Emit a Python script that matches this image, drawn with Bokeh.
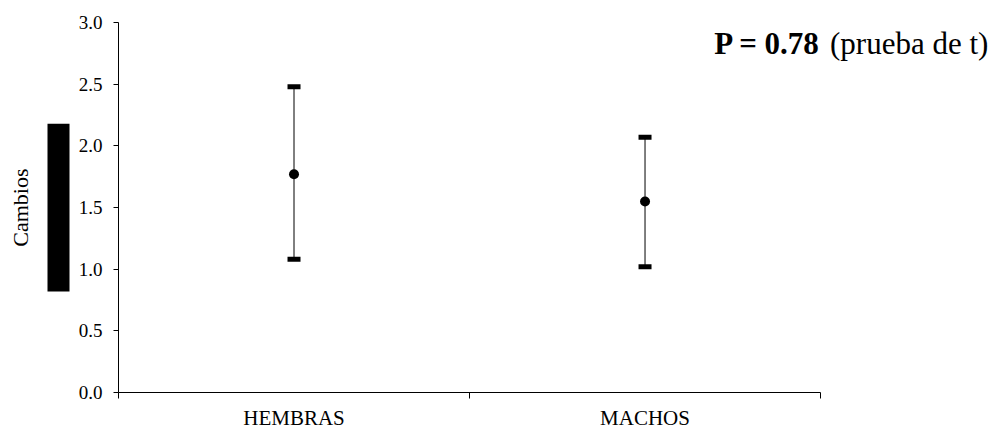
import math

from bokeh.core.properties import value
from bokeh.embed import file_html
from bokeh.layouts import row
from bokeh.models import FixedTicker, PrintfTickFormatter, Range1d
from bokeh.plotting import figure
from bokeh.resources import INLINE

# Means with their interval ends for each group
groups = ["HEMBRAS", "MACHOS"]
means = [1.77, 1.55]
upper = [2.48, 2.07]
lower = [1.08, 1.02]

y_ticks = [0.0, 0.5, 1.0, 1.5, 2.0, 2.5, 3.0]
p_value = 0.78
y_title = "Cambios"

# Marker band drawn beside the y-axis title (in y units)
band_bottom = [0.82]
band_top = [2.18]

SERIF = "Liberation Serif"

x = [i + 0.5 for i in range(len(groups))]
boundaries = [float(i) for i in range(len(groups) + 1)]

y_range = Range1d(0, 3.18)

# Main plot
p = figure(
    width=923, height=432,
    x_range=Range1d(0, 2.507), y_range=y_range,
    output_backend="svg", toolbar_location=None,
    min_border_left=43, min_border_right=0,
    min_border_top=0, min_border_bottom=40,
)
p.outline_line_color = None
p.grid.visible = False
p.background_fill_color = "white"
p.border_fill_color = "white"

p.segment(x0=x, y0=lower, x1=x, y1=upper, line_color="black", line_width=1)
for ends in (upper, lower):
    p.rect(x=x, y=ends, width=13, height=5, width_units="screen",
           height_units="screen", fill_color="black", line_color=None)
p.scatter(x=x, y=means, size=10, fill_color="black", line_color=None)

# y axis
ya = p.yaxis[0]
ya.bounds = (y_ticks[0], y_ticks[-1])
ya.ticker = FixedTicker(ticks=y_ticks)
ya.formatter = PrintfTickFormatter(format="%.1f")
ya.major_tick_out = 5
ya.major_tick_in = 0
ya.minor_tick_out = 0
ya.minor_tick_in = 0
ya.major_label_standoff = 11
ya.major_label_text_font = SERIF
ya.major_label_text_font_size = "19px"
ya.major_label_text_color = "black"
ya.axis_line_color = "black"
ya.major_tick_line_color = "black"

# x axis: ticks at group boundaries, labels at group centres
xa = p.xaxis[0]
xa.bounds = (boundaries[0], boundaries[-1])
xa.ticker = FixedTicker(ticks=x, minor_ticks=boundaries)
xa.major_label_overrides = {xi: g for xi, g in zip(x, groups)}
xa.major_tick_out = 0
xa.major_tick_in = 0
xa.minor_tick_out = 6
xa.minor_tick_in = 0
xa.major_label_standoff = 7
xa.major_label_text_font = SERIF
xa.major_label_text_font_size = "21px"
xa.major_label_text_color = "black"
xa.axis_line_color = "black"
xa.minor_tick_line_color = "black"

# Test result note in the upper right
p.text(x=[1.697], y=[2.83], text=[f"P = {p_value:.2f}"],
       text_font=value(SERIF), text_font_style="bold", text_font_size="31px",
       text_color="black", text_align="left", text_baseline="alphabetic")
p.text(x=[2.027], y=[2.83], text=["(prueba de t)"],
       text_font=value(SERIF), text_font_size="31px",
       text_color="black", text_align="left", text_baseline="alphabetic")

# Left strip: y-axis title and band
left = figure(
    width=75, height=432,
    x_range=Range1d(0, 75), y_range=y_range,
    x_axis_type=None, y_axis_type=None,
    output_backend="svg", toolbar_location=None,
    min_border_left=0, min_border_right=0,
    min_border_top=0, min_border_bottom=40,
)
left.outline_line_color = None
left.grid.visible = False
left.quad(left=[47], right=[69], bottom=band_bottom, top=band_top,
          fill_color="black", line_color=None)
left.text(x=[20], y=[(y_ticks[0] + y_ticks[-1]) / 2], text=[y_title],
          angle=math.pi / 2, text_font=value(SERIF), text_font_size="22px",
          text_color="black", text_align="center", text_baseline="alphabetic")

layout = row(left, p, spacing=0)

with open("out.html", "w") as f:
    f.write(file_html(layout, INLINE))
